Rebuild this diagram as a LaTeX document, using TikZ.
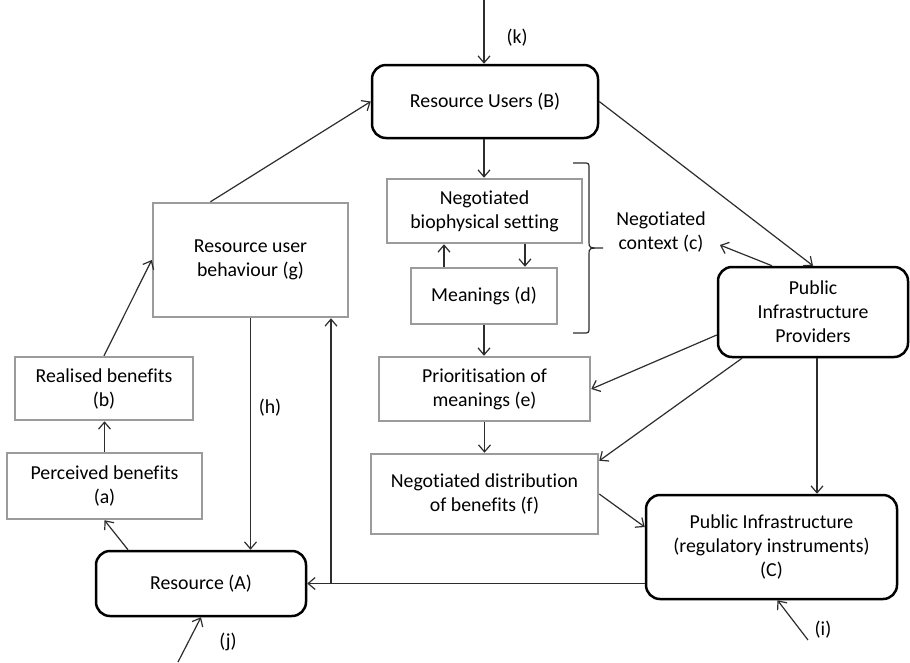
\documentclass[tikz,border=0pt]{standalone}
\usepackage{fontspec}
\setmainfont{Carlito}[Ligatures=NoCommon]
\usetikzlibrary{arrows.meta}
\definecolor{boxgray}{RGB}{155,155,155}
\definecolor{linegray}{RGB}{45,45,45}
\begin{document}
\begin{tikzpicture}[x=1pt,y=-1pt,
  every node/.style={font=\fontsize{19.8}{24}\selectfont, align=center, inner sep=0pt, text=black},
  graybox/.style={draw=boxgray, line width=2.5pt, rectangle},
  blackbox/.style={draw=black, line width=2.5pt, rounded corners=14pt, rectangle},
  arr/.style={draw=linegray, line width=1.2pt, -{Straight Barb[length=7pt,width=12pt]}},
  bracestyle/.style={draw=linegray, line width=1.2pt},
]
\fill[white] (0,0) rectangle (910,662);
\useasboundingbox (0,0) rectangle (910,662);

% boxes
\node[blackbox, minimum width=226pt, minimum height=73pt] (B) at (485,101.5) {Resource Users (B)};
\node[graybox, minimum width=195pt, minimum height=64pt] (NBS) at (484.5,211) {Negotiated\\biophysical setting};
\node[graybox, minimum width=146pt, minimum height=56pt] (Mean) at (484,296) {Meanings (d)};
\node[graybox, minimum width=211pt, minimum height=64pt] (Prio) at (484.5,389) {Prioritisation of\\meanings (e)};
\node[graybox, minimum width=227pt, minimum height=80pt] (NDB) at (484.5,494) {Negotiated distribution\\of benefits (f)};
\node[blackbox, minimum width=190pt, minimum height=90pt] (PIP) at (813,312) {Public\\Infrastructure\\Providers};
\node[blackbox, minimum width=251pt, minimum height=104pt] (PIC) at (771.5,547) {Public Infrastructure\\(regulatory instruments)\\(C)};
\node[graybox, minimum width=195pt, minimum height=114pt] (RUB) at (250.5,260) {Resource user\\behaviour (g)};
\node[graybox, minimum width=178pt, minimum height=63pt] (Real) at (104,388.5) {Realised benefits\\(b)};
\node[graybox, minimum width=195pt, minimum height=66pt] (Perc) at (104.5,486) {Perceived benefits\\(a)};
\node[blackbox, minimum width=210pt, minimum height=65pt] (Res) at (201,583.5) {Resource (A)};
\node[inner xsep=14pt] (ctx) at (661,232) {Negotiated\\context (c)};

% labels
\node (lk) at (517,38) {(k)};
\node (lh) at (270,408) {(h)};
\node (lj) at (228,642) {(j)};
\node (li) at (823,630) {(i)};

% free ends
\coordinate (kt) at (484,0);
\coordinate (jt) at (178,662);
\coordinate (it) at (808,640);
\coordinate (jn) at (331,583.5);

% brace
\draw[bracestyle] (573,163) -- (583,163) .. controls (589,163) .. (589,169) -- (589,242)
  .. controls (589,248) .. (603,248) .. controls (589,248) .. (589,254) -- (589,327)
  .. controls (589,333) .. (583,333) -- (573,333);

% connectors
\draw[arr] (kt) -- (kt |- B.north);
\draw[arr] ([xshift=-1pt]B.south) -- ([xshift=-1pt]B.south |- NBS.north);
\draw[arr] ([xshift=40.5pt]NBS.south) -- ([xshift=40.5pt]NBS.south |- Mean.north);
\draw[arr] ([xshift=-40pt]Mean.north) -- ([xshift=-40pt]Mean.north |- NBS.south);
\draw[arr] (Mean.south) -- (Mean.south |- Prio.north);
\draw[arr] (Prio.south) -- (Prio.south |- NDB.north);
\draw[arr] (B.east) -- (PIP.north);
\draw[arr] ([xshift=-41pt]PIP.north) -- ([yshift=-13pt]ctx.east);
\draw[arr] ([yshift=-23pt]PIP.west) -- (Prio.east);
\draw[arr] ([xshift=-71pt]PIP.south) -- ([yshift=-8pt]NDB.north east);
\draw[arr] (NDB.east) -- ([yshift=20pt]PIC.west);
\draw[arr] ([xshift=4pt]PIP.south) -- ([xshift=4pt]PIP.south |- PIC.north);
\draw[arr] ([yshift=-36.5pt]PIC.west) -- ([yshift=-36.5pt]PIC.west -| Res.east);
\draw[arr] (jn) -- (jn |- RUB.south);
\draw[arr] (RUB.south) -- (RUB.south |- Res.north);
\draw[arr] ([xshift=-40pt]RUB.north) -- (B.west);
\draw[arr] (Real.north) -- (RUB.west);
\draw[arr] (Perc.north) -- (Perc.north |- Real.south);
\draw[arr] ([xshift=-73pt]Res.north) -- (Perc.south);
\draw[arr] (jt) -- (Res.south);
\draw[arr] (it) -- ([xshift=6pt]PIC.south);
\end{tikzpicture}
\end{document}
